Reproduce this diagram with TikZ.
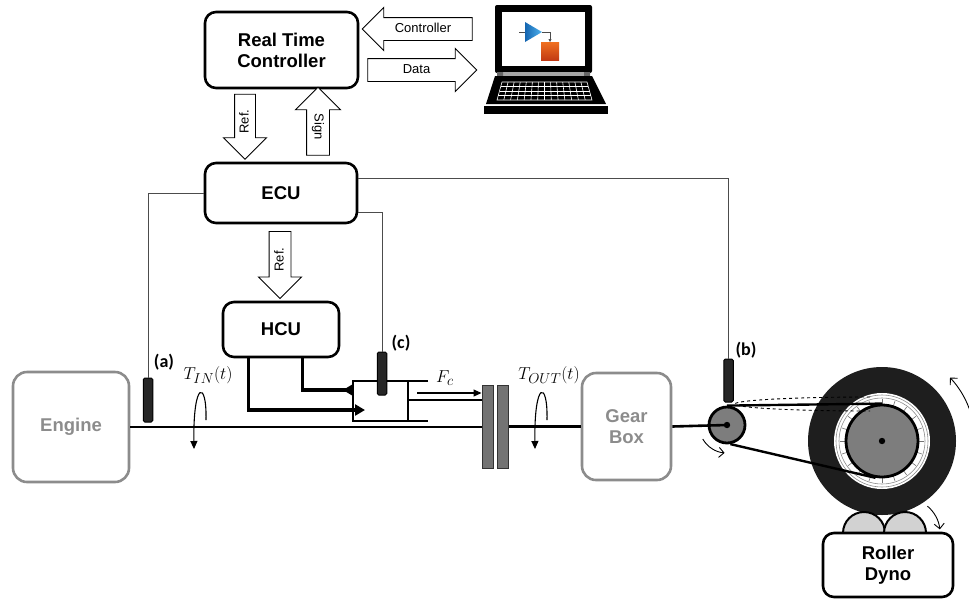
\documentclass[tikz,border=0pt]{standalone}
\usepackage{fontspec}
\setmainfont{Liberation Sans}
\newfontfamily\tagfont{Carlito}
\usetikzlibrary{arrows.meta,shapes.arrows,calc}
\definecolor{boxgray}{HTML}{8C8C8C}
\definecolor{tire}{HTML}{1E1E1E}
\definecolor{hubgray}{HTML}{7D7D7D}
\definecolor{rollgray}{HTML}{D2D2D2}
\definecolor{simblueA}{HTML}{1565B0}
\definecolor{simblueB}{HTML}{4FB3F0}
\definecolor{simorA}{HTML}{F07020}
\definecolor{simorB}{HTML}{C23A14}
\begin{document}
\begin{tikzpicture}[x=1pt,y=-1pt,
  ctrlbox/.style={draw, line width=2.6pt, rounded corners=11pt, fill=white, align=center,
    inner sep=0pt, font=\fontsize{18.5}{21}\selectfont\bfseries},
  mechbox/.style={draw=boxgray, line width=2.6pt, rounded corners=14pt, text=boxgray, align=center,
    inner sep=0pt, font=\fontsize{18.5}{21}\selectfont\bfseries},
  sensor/.style={draw=black, fill=black!85, line width=1pt, rounded corners=1.5pt,
    minimum width=9.5pt, inner sep=0pt},
  tag/.style={font=\tagfont\fontsize{18}{20}\selectfont\bfseries},
  wire/.style={draw=black!70, line width=0.9pt},
  shaft/.style={line width=2.6pt},
  hyd/.style={line width=3.2pt},
  cyl/.style={line width=2.6pt},
  plate/.style={draw=black!80, fill=black!55, line width=1pt, minimum width=11pt,
    minimum height=83pt, inner sep=0pt},
  blockarrow/.style={single arrow, draw, fill=white, line width=0.9pt, inner xsep=1pt,
    inner ysep=5pt, text height=9.5pt, text depth=2.5pt, font=\fontsize{13}{15}\selectfont},
  twist/.style={line width=1.1pt, -{Triangle[length=8pt,width=7pt]}},
  spin/.style={line width=0.9pt, -{Straight Barb[length=5pt,width=10pt]}},
  sym/.style={font=\fontsize{19}{21}\selectfont}
]
\useasboundingbox (0,0) rectangle (969,598);

% ---------- control boxes ----------
\node[ctrlbox, minimum width=153pt, minimum height=76pt] (rtc) at (281.5,50) {Real Time\\Controller};
\node[ctrlbox, minimum width=152pt, minimum height=60pt] (ecu) at (281,193) {ECU};
\node[ctrlbox, minimum width=116pt, minimum height=55pt] (hcu) at (281,329.5) {HCU};

% ---------- block arrows ----------
\node[blockarrow, shape border rotate=180, minimum height=110pt, minimum width=42pt,
  single arrow head extend=10pt] (ctrlarrow) at (423,29) {Controller};
\node[blockarrow, minimum height=109pt, minimum width=40pt,
  single arrow head extend=10pt] (dataarrow) at (416.5,70) {Data};
\node[blockarrow, rotate=90, shape border rotate=180, minimum height=65pt, minimum width=42pt,
  single arrow head extend=11pt, inner ysep=4pt] (refa) at (245,121.5) {Ref.};
\node[blockarrow, rotate=-90, shape border rotate=180, minimum height=68pt, minimum width=44pt,
  single arrow head extend=11pt] (sign) at (318,127) {Sign};
\node[blockarrow, rotate=90, shape border rotate=180, minimum height=67pt, minimum width=42pt,
  single arrow head extend=10.5pt, inner ysep=4.5pt] (refb) at (280,259.5) {Ref.};

% ---------- laptop ----------
\fill[black, rounded corners=2pt] (495,5) rectangle (592,73);
\fill[white] (502,12) rectangle (585,66);
\fill[black!35] (497,72) rectangle (590,76);
\fill[black!60] (497,72) rectangle (503,76) (584,72) rectangle (590,76);
\fill[black] (495,76) -- (592,76) -- (606,104) -- (486,104) -- cycle;
\fill[black] (484,106) rectangle (608,114);
\begin{scope}[white, line width=0.6pt]
  \draw (502,82) -- (587,82) -- (592,100) -- (497,100) -- cycle;
  \foreach \t in {0.25,0.5,0.75}
    \draw ($(502,82)!\t!(497,100)$) -- ($(587,82)!\t!(592,100)$);
  \foreach \i in {1,...,13}
    \draw ($(502,82)!\i/14!(587,82)$) -- ($(497,100)!\i/14!(592,100)$);
\end{scope}
% model icon on the screen
\draw[black!70, line width=0.8pt] (519,32) -- (525,32);
\shade[left color=simblueA, right color=simblueB] (525,22) -- (542,32) -- (525,42) -- cycle;
\draw[black!70, line width=0.8pt, -{Triangle[length=3pt,width=3pt]}] (542,32) -- (550,32) -- (550,42);
\shade[top color=simorA, bottom color=simorB] (541,42) rectangle (559,60);

% ---------- driveline ----------
\node[mechbox, minimum width=116pt, minimum height=110pt] (engine) at (71,427) {Engine};
\node[mechbox, minimum width=89pt, minimum height=107pt] (gearbox) at (626.5,426.5) {Gear\\Box};
\node[plate] (p1) at (487.5,426.5) {};
\node[plate] (p2) at (502.5,426.5) {};
\node[circle, draw, fill=hubgray, line width=2.8pt, minimum size=36pt, inner sep=0pt] (pulley) at (727,425) {};

\draw[shaft] (engine.east) -- (engine.east -| p1.west);
\draw[shaft] (p2.east |- gearbox.west) -- (gearbox.west);
\draw[shaft] (gearbox.east) -- (pulley.center);
\fill (pulley.center) circle (3.2);

% clutch actuator cylinder
\coordinate (rod) at (408,400);
\coordinate (fc) at (417,393);
\draw[cyl] (428,381) -- (353,381) -- (353,421) -- (428,421);
\draw[cyl] (408,381) -- (408,421);
\draw[cyl] (rod) -- (rod -| p1.west);
\draw[line width=1.1pt, -{Triangle[length=8pt,width=7pt]}] (fc) -- (fc -| p1.west);
\node[plate] at (p1) {};

% hydraulic lines from the HCU
\draw[hyd, -{Triangle[length=10pt,width=11pt]}] ($(hcu.south west)+(27,0)$) |- (365,410);
\draw[hyd] ($(hcu.south west)+(81,0)$) |- (352,390);
\fill (353,384) -- (353,396) -- (343,390) -- cycle;

% sensors
\node[sensor, minimum height=44pt] (sa) at (148,400) {};
\node[sensor, minimum height=43pt] (sc) at (382,373.5) {};
\node[sensor, minimum height=43pt] (sb) at (728.5,380.5) {};
\node[tag] at (164,362) {(a)};
\node[tag] at (401,343) {(c)};
\node[tag] at (746,350) {(b)};

% ECU wiring
\draw[wire] (ecu.west) -| (sa.north);
\draw[wire] ($(ecu.east)+(0,19)$) -| (sc.north);
\draw[wire] ($(ecu.east)+(0,-15)$) -| (sb.north);

% torques and clamping force
\node[sym] at (208,375) {$T_{IN}(t)$};
\node[sym] at (549,375) {$T_{OUT}(t)$};
\node[sym] at (445,378) {$F_c$};
\draw[twist] (206,420) .. controls (207,380) and (193,380) .. (194,449);
\draw[twist] (547,420) .. controls (548,380) and (534,380) .. (535,449);
\draw[spin] ($(pulley.center)+(150:28)$) arc[start angle=150, end angle=95, radius=28];

% ---------- wheel on the roller dyno ----------
\coordinate (wc) at (882,441);
\fill[tire] (wc) circle (74);
\fill[white] (wc) circle (48);
\draw[black!45, line width=0.6pt] (wc) circle (46) (wc) circle (43);
\foreach \a in {0,18,...,342}
  \draw[black!55, line width=0.6pt] ($(wc)+(\a:37)$) -- ($(wc)+(\a:42)$);
\node[circle, draw, fill=hubgray, line width=2.8pt, minimum size=72pt, inner sep=0pt] (hub) at (wc) {};
\fill (hub.center) circle (3.2);

% belt
\draw[line width=2.4pt] (pulley.north) -- (hub.north);
\draw[line width=2.4pt] (pulley.-80) -- (hub.-100);
\draw[dashed, line width=0.9pt] (870,397) arc[start angle=-90, end angle=-270, x radius=135, y radius=7];
\draw[spin] ($(wc)+(0:93)$) arc[start angle=0, end angle=-43, radius=93];

% rollers and dyno
\node[circle, draw, fill=rollgray, line width=2pt, minimum size=42pt, inner sep=0pt] (rl) at (864,533) {};
\node[circle, draw, fill=rollgray, line width=2pt, minimum size=42pt, inner sep=0pt] (rr) at (905,533) {};
\draw[spin] ($(rr.center)+(-50:35)$) arc[start angle=-50, end angle=-6, radius=35];
\node[ctrlbox, minimum width=130pt, minimum height=64pt] (dyno) at (888,565) {Roller\\Dyno};
\end{tikzpicture}
\end{document}
